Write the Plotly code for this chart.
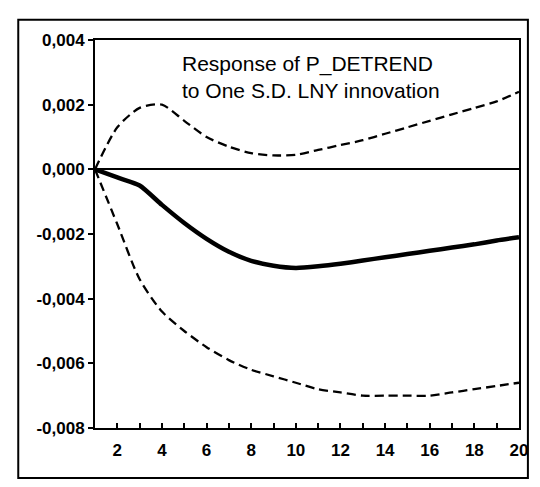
import plotly.graph_objects as go

periods = list(range(1, 21))
response = [0.0, -0.00025, -0.0005, -0.0011, -0.00166, -0.00215, -0.00255, -0.00283,
            -0.00298, -0.00305, -0.00300, -0.00292, -0.00282, -0.00272, -0.00262,
            -0.00252, -0.00242, -0.00232, -0.00220, -0.00210]
upper_band = [0.0, 0.0013, 0.0019, 0.0020, 0.0015, 0.0010, 0.0007, 0.0005, 0.00043,
              0.00045, 0.0006, 0.00075, 0.0009, 0.0011, 0.0013, 0.0015, 0.0017,
              0.0019, 0.0021, 0.0024]
lower_band = [0.0, -0.0017, -0.0034, -0.0044, -0.0050, -0.0055, -0.0059, -0.0062,
              -0.0064, -0.0066, -0.0068, -0.0069, -0.0070, -0.0070, -0.0070, -0.0070,
              -0.0069, -0.0068, -0.0067, -0.0066]

y_tickvals = [-0.008, -0.006, -0.004, -0.002, 0.0, 0.002, 0.004]
y_ticktext = ["-0,008", "-0,006", "-0,004", "-0,002", "0,000", "0,002", "0,004"]
x_tickvals = [2, 4, 6, 8, 10, 12, 14, 16, 18, 20]
x_ticktext = ["2", "4", "6", "8", "10", "12", "14", "16", "18", "20"]
title_text = "Response of P_DETREND<br>to One S.D. LNY innovation"

fig = go.Figure()
fig.add_trace(go.Scatter(x=periods, y=upper_band, mode="lines",
                         line=dict(color="black", width=2.3, dash="9px,5px",
                                   shape="spline", smoothing=0.7),
                         showlegend=False, hoverinfo="skip"))
fig.add_trace(go.Scatter(x=periods, y=lower_band, mode="lines",
                         line=dict(color="black", width=2.3, dash="9px,5px",
                                   shape="spline", smoothing=0.7),
                         showlegend=False, hoverinfo="skip"))
fig.add_trace(go.Scatter(x=periods, y=response, mode="lines",
                         line=dict(color="black", width=4.5, shape="spline", smoothing=0.6),
                         showlegend=False))

tickfont = dict(family="Liberation Sans, Arial, sans-serif", size=17, color="black", weight="bold")

fig.update_layout(
    width=540, height=487,
    margin=dict(l=95, r=13, t=40, b=59),
    paper_bgcolor="white", plot_bgcolor="white",
    xaxis=dict(range=[1, 20], tickvals=x_tickvals, ticktext=x_ticktext,
               ticks="inside", ticklen=5, tickwidth=1.5, tickcolor="black",
               minor=dict(dtick=1, tick0=1, ticks="inside", ticklen=5, tickwidth=1.5, tickcolor="black"),
               showline=True, linecolor="black", linewidth=2, mirror=True,
               showgrid=False, zeroline=False, tickfont=tickfont, ticklabelstandoff=6),
    yaxis=dict(range=[-0.008, 0.004], tickvals=y_tickvals, ticktext=y_ticktext,
               ticks="outside", ticklen=5, tickwidth=1.5, tickcolor="black",
               showline=True, linecolor="black", linewidth=2, mirror=True,
               showgrid=False, zeroline=True, zerolinecolor="black", zerolinewidth=1.5,
               tickfont=tickfont),
    annotations=[dict(text=title_text, x=0.51, y=0.905, xref="paper", yref="paper",
                      xanchor="center", yanchor="middle", showarrow=False, align="left",
                      font=dict(family="Liberation Sans, Arial, sans-serif", size=21, color="black"))],
    shapes=[
        dict(type="rect", xref="paper", yref="paper", x0=-0.181, x1=1.021, y0=-0.129, y1=1.052,
             line=dict(color="black", width=2), fillcolor="rgba(0,0,0,0)", layer="below"),
    ],
)

fig.write_html("out.html")
